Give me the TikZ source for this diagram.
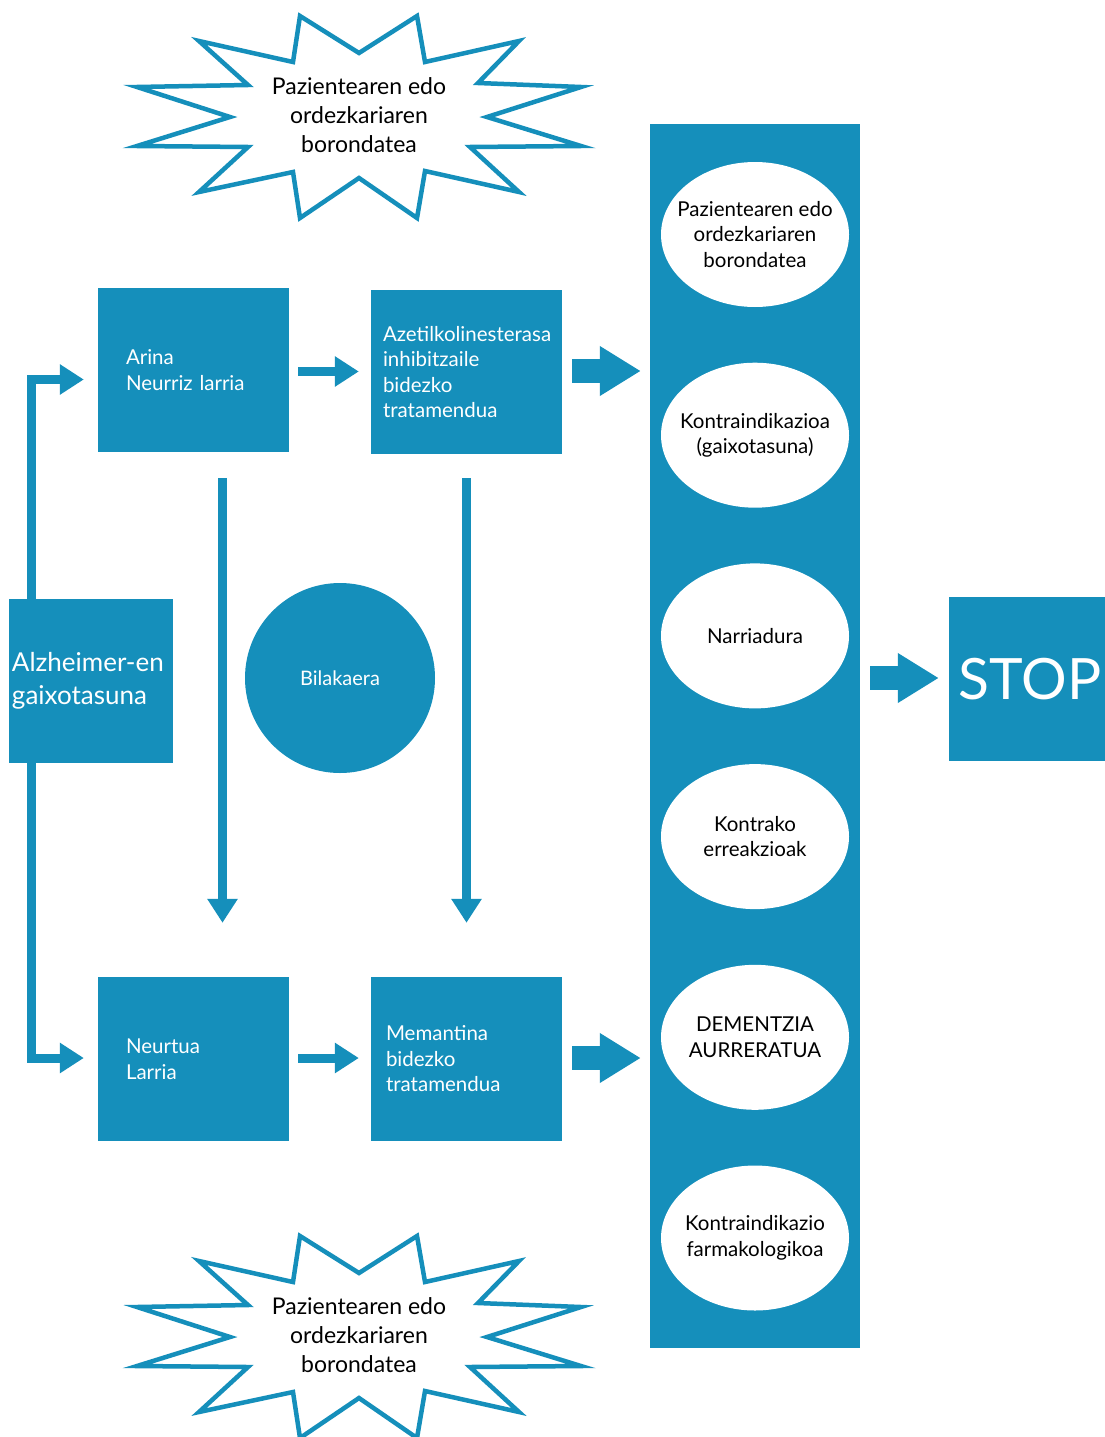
\documentclass[tikz,border=0pt]{standalone}
\usepackage{fontspec}
\setmainfont{Lato}
\usetikzlibrary{arrows.meta,shapes.geometric,calc}
\definecolor{azul}{RGB}{21,143,187}
\begin{document}
\begin{tikzpicture}[x=1pt,y=-1pt,
  box/.style={fill=azul, text=white, inner ysep=0pt, minimum height=164pt, align=left,
    font=\fontsize{20.5}{25.5}\selectfont},
  oval/.style={ellipse, fill=white, inner sep=0pt, minimum width=188pt, minimum height=145pt},
  ovaltext/.style={text=black, align=center, inner sep=0pt, font=\fontsize{20.5}{25.5}\selectfont},
  bursttext/.style={text=black, align=center, inner sep=0pt, font=\fontsize{23}{29}\selectfont},
  burst/.style={draw=azul, fill=white, line width=4.5pt, line join=miter},
  thinarrow/.style={draw=azul, line width=9pt, line join=miter, -{Triangle[length=24pt,width=29pt]}},
  thickarrow/.style={draw=azul, line width=24pt, -{Triangle[length=41pt,width=47pt]}}
]
\clip (0,0) rectangle (1105,1437);
\fill[white] (0,0) rectangle (1105,1437);

% starbursts
\def\burstpath{(300,16) -- (359,53) -- (417,16) -- (425,62) -- (519,41) -- (478,83) -- (581,87)
  -- (487,117) -- (581,146) -- (470,147) -- (519,192) -- (425,171) -- (417,218) -- (359,178)
  -- (300,218) -- (293,172) -- (199,192) -- (248,147) -- (137,146) -- (230,117) -- (137,87)
  -- (248,85) -- (199,41) -- (293,62) -- cycle}
\draw[burst] \burstpath;
\node[bursttext] (burstA) at (359,115) {Pazientearen edo\\ordezkariaren\\borondatea};
\begin{scope}[shift={(0,1220)}]
\draw[burst] \burstpath;
\node[bursttext] (burstB) at (359,115) {Pazientearen edo\\ordezkariaren\\borondatea};
\end{scope}

% boxes
\node[box, text width=135pt, inner xsep=28pt] (arina) at (193.5,370) {Arina\\Neurriz larria};
\node[box, text width=167pt, inner xsep=12pt] (azetil) at (466.5,372) {Azetilkolinesterasa\\inhibitzaile\\bidezko\\tratamendua};
\node[box, text width=135pt, inner xsep=28pt] (neurtua) at (193.5,1059) {Neurtua\\Larria};
\node[box, text width=161pt, inner xsep=15pt] (mem) at (466.5,1059) {Memantina\\bidezko\\tratamendua};
\node[box, text width=158pt, inner xsep=3pt, font=\fontsize{26}{33}\selectfont] (alz) at (91,681) {Alzheimer-en\\gaixotasuna};
\node[box, minimum width=156pt, inner xsep=0pt, align=center, font=\fontsize{57}{57}\selectfont] (stop) at (1027,679) {\hspace*{6pt}STOP};
\node[circle, fill=azul, text=white, minimum size=190pt, inner sep=0pt,
  font=\fontsize{20}{24}\selectfont] (bil) at (340,678) {Bilakaera};

% column
\node[fill=azul, minimum width=210pt, minimum height=1224pt, inner sep=0pt] (col) at (755,736) {};
\node[oval, label={[ovaltext]center:Pazientearen edo\\ordezkariaren\\borondatea}] (e1) at (755,234.5) {};
\node[oval, label={[ovaltext]center:Kontraindikazioa\\(gaixotasuna)}] (e2) at (755,435.2) {};
\node[oval, label={[ovaltext]center:Narriadura}] (e3) at (755,635.9) {};
\node[oval, label={[ovaltext]center:Kontrako\\erreakzioak}] (e4) at (755,836.6) {};
\node[oval, label={[ovaltext]center:DEMENTZIA\\AURRERATUA}] (e5) at (755,1037.3) {};
\node[oval, label={[ovaltext]center:Kontraindikazio\\farmakologikoa}] (e6) at (755,1238) {};

% connectors
\draw[thinarrow] ($(alz.north west)+(22.5,0)$) |- ($(arina.west)+(-14,9.5)$);
\draw[thinarrow] ($(alz.south west)+(22.5,0)$) |- ($(neurtua.west)+(-14,-1)$);
\draw[thinarrow] ($(arina.east)+(9,1.5)$) -- ($(azetil.west)+(-12,-0.5)$);
\draw[thinarrow] ($(neurtua.east)+(9,-1)$) -- ($(mem.west)+(-12,-1)$);
\draw[thinarrow] ($(arina.south)+(29,26)$) -- ($(neurtua.north)+(29,-54)$);
\draw[thinarrow] ($(azetil.south)+(0,24)$) -- ($(mem.north)+(0,-54)$);
\draw[thickarrow] ($(azetil.east)+(10,-1)$) -- ($(azetil.east -| col.west)+(-9,-1)$);
\draw[thickarrow] ($(mem.east)+(10,-1)$) -- ($(mem.east -| col.west)+(-9,-1)$);
\draw[thickarrow] ($(stop.west -| col.east)+(10,-1)$) -- ($(stop.west)+(-10,-1)$);
\end{tikzpicture}
\end{document}
